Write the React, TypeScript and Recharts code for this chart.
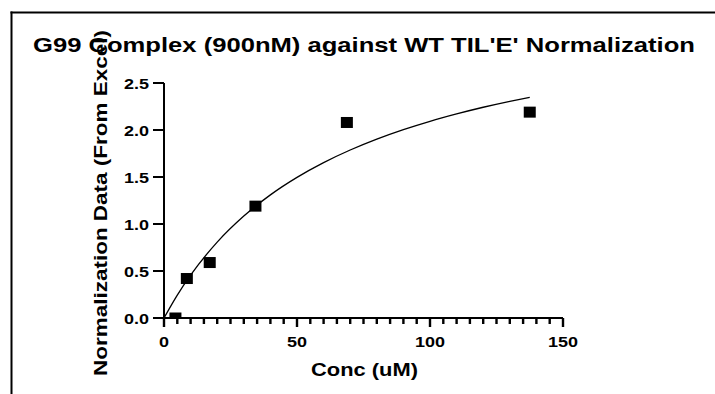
import React from 'react';
import { ComposedChart, XAxis, YAxis, Line, Scatter } from 'recharts';

// ---- data ----
const concentrations = [4.3, 8.59, 17.19, 34.38, 68.75, 137.5];
const normValues = [0.0, 0.42, 0.59, 1.19, 2.08, 2.19];

const fitX = [0, 5, 10, 20, 30, 40, 50, 60, 70, 80, 90, 100, 110, 120, 130, 137.5];
const fitY = [0, 0.244, 0.456, 0.807, 1.084, 1.31, 1.496, 1.653, 1.787, 1.903, 2.004, 2.093, 2.171, 2.242, 2.305, 2.348];

const xTicks = [0, 5, 10, 15, 20, 25, 30, 35, 40, 45, 50, 55, 60, 65, 70, 75, 80, 85, 90, 95, 100, 105, 110, 115, 120, 125, 130, 135, 140, 145, 150];
const xMajorTicks = [0, 50, 100, 150];
const yTicks = [0, 0.5, 1.0, 1.5, 2.0, 2.5];

const titleText = "G99 Complex (900nM) against WT TIL'E' Normalization";
const xLabelText = 'Conc (uM)';
const yLabelText = 'Normalization Data (From Excel)';

const pointData = concentrations.map((c, i) => ({ x: c, y: normValues[i] }));
const fitData = fitX.map((c, i) => ({ x: c, fit: fitY[i] }));

const FONT = '"Liberation Sans", Arial, sans-serif';
const SX = 1.2;

const XTick = (props: any) => {
  const { x, y, payload } = props;
  const major = xMajorTicks.includes(payload.value);
  return (
    <g>
      <rect x={x - 1.2} y={y} width={2.4} height={major ? 9 : 6} fill="#000" />
      {major && (
        <text
          transform={`translate(${x},${y + 29}) scale(${SX},1)`}
          textAnchor="middle"
          fontFamily={FONT}
          fontWeight="bold"
          fontSize={15}
          fill="#000"
        >
          {payload.value}
        </text>
      )}
    </g>
  );
};

const YTickText = (props: any) => {
  const { x, y, payload } = props;
  return (
    <text
      transform={`translate(${x},${y + 5.5}) scale(${SX},1)`}
      textAnchor="end"
      fontFamily={FONT}
      fontWeight="bold"
      fontSize={15}
      fill="#000"
    >
      {Number(payload.value).toFixed(1)}
    </text>
  );
};

const SquareShape = (props: any) => {
  const { cx, cy } = props;
  return <rect x={cx - 6} y={cy - 5.5} width={12} height={11} fill="#000" />;
};

export default function App() {
  return (
    <div style={{ position: 'fixed', left: 0, top: 0, width: 715, height: 394, background: '#fff' }}>
      <ComposedChart
        width={715}
        height={394}
        margin={{ top: 83, right: 152, bottom: 36, left: 0 }}
      >
        <XAxis
          type="number"
          dataKey="x"
          domain={[0, 150]}
          ticks={xTicks}
          interval={0}
          tickSize={0}
          tickMargin={0}
          tickLine={false}
          tick={<XTick />}
          axisLine={{ stroke: '#000', strokeWidth: 2 }}
          height={40}
          allowDataOverflow
        />
        <YAxis
          type="number"
          domain={[0, 2.5]}
          ticks={yTicks}
          interval={0}
          tickSize={11}
          tickMargin={4}
          tickLine={{ stroke: '#000', strokeWidth: 2 }}
          tick={<YTickText />}
          axisLine={{ stroke: '#000', strokeWidth: 2 }}
          width={164}
          allowDataOverflow
        />
        <Line
          data={fitData}
          dataKey="fit"
          type="monotone"
          stroke="#000"
          strokeWidth={1.3}
          dot={false}
          activeDot={false}
          isAnimationActive={false}
        />
        <Scatter data={pointData} dataKey="y" fill="#000" shape={<SquareShape />} isAnimationActive={false} />
      </ComposedChart>
      <svg width={715} height={394} style={{ position: 'absolute', left: 0, top: 0, pointerEvents: 'none' }}>
        <line x1={11.5} x2={11.5} y1={11.5} y2={394} stroke="#000" strokeWidth={2} />
        <line x1={10.5} x2={715} y1={12.5} y2={12.5} stroke="#000" strokeWidth={2} />
        <text
          x={33}
          y={52}
          textLength={662}
          lengthAdjust="spacingAndGlyphs"
          fontFamily={FONT}
          fontWeight="bold"
          fontSize={21}
          fill="#000"
        >
          {titleText}
        </text>
        <text
          x={311}
          y={376}
          textLength={107}
          lengthAdjust="spacingAndGlyphs"
          fontFamily={FONT}
          fontWeight="bold"
          fontSize={18}
          fill="#000"
        >
          {xLabelText}
        </text>
        <text
          transform="translate(107,376) rotate(-90)"
          textLength={346}
          lengthAdjust="spacingAndGlyphs"
          fontFamily={FONT}
          fontWeight="bold"
          fontSize={19}
          fill="#000"
        >
          {yLabelText}
        </text>
      </svg>
    </div>
  );
}
